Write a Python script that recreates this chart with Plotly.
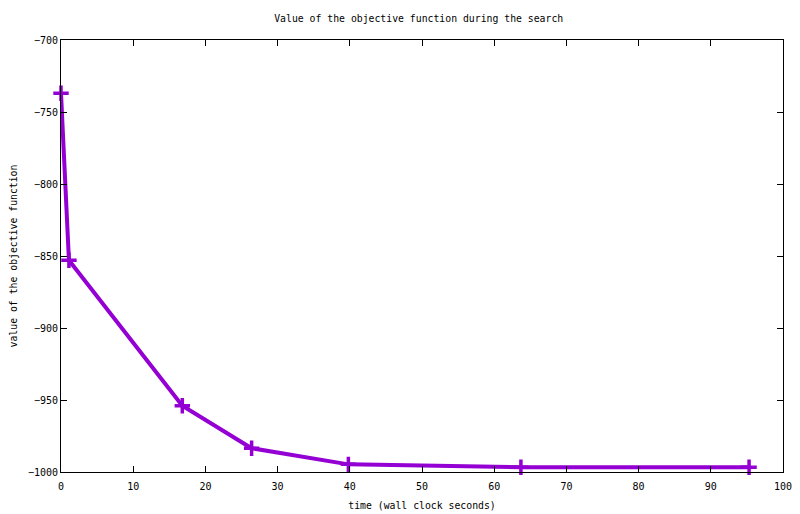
import plotly.graph_objects as go

# search progress: wall clock time vs objective value
time_s = [0.0, 1.1, 16.8, 26.4, 39.8, 63.7, 95.3]
objective = [-737, -853, -954, -983.5, -994.7, -996.7, -996.7]

FONT = "DejaVu Sans Mono"
PURPLE = "#9400d3"

fig = go.Figure()
fig.add_trace(
    go.Scatter(
        x=time_s,
        y=objective,
        mode="lines+markers",
        cliponaxis=False,
        line=dict(color=PURPLE, width=4),
        marker=dict(
            symbol="cross-thin",
            size=11,
            color=PURPLE,
            line=dict(color=PURPLE, width=3.5),
        ),
        showlegend=False,
    )
)

axis_common = dict(
    showgrid=False,
    zeroline=False,
    showline=True,
    linecolor="black",
    linewidth=1,
    mirror="allticks",
    ticks="inside",
    ticklen=6,
    tickcolor="black",
    automargin=False,
    tickfont=dict(family=FONT, size=10, color="black"),
)

# the page body has an 8px margin, so margins are shifted by 8px
fig.update_layout(
    width=800,
    height=514,
    paper_bgcolor="white",
    plot_bgcolor="white",
    margin=dict(l=53, r=25, t=32, b=50, autoexpand=False),
    title=dict(
        text="Value of the objective function during the search",
        x=0.5134,
        xanchor="center",
        y=0.9786,
        yanchor="middle",
        automargin=False,
        font=dict(family=FONT, size=9.8, color="black"),
    ),
    xaxis=dict(
        range=[0, 100],
        tickvals=[0, 10, 20, 30, 40, 50, 60, 70, 80, 90, 100],
        ticklabelstandoff=5,
        title=dict(
            text="time (wall clock seconds)",
            font=dict(family=FONT, size=9.8, color="black"),
            standoff=11,
        ),
        **axis_common,
    ),
    yaxis=dict(
        range=[-1000, -700],
        tickvals=[-1000, -950, -900, -850, -800, -750, -700],
        title=dict(
            text="value of the objective function",
            font=dict(family=FONT, size=9.8, color="black"),
            standoff=10,
        ),
        **axis_common,
    ),
)

fig.write_html("out.html")
